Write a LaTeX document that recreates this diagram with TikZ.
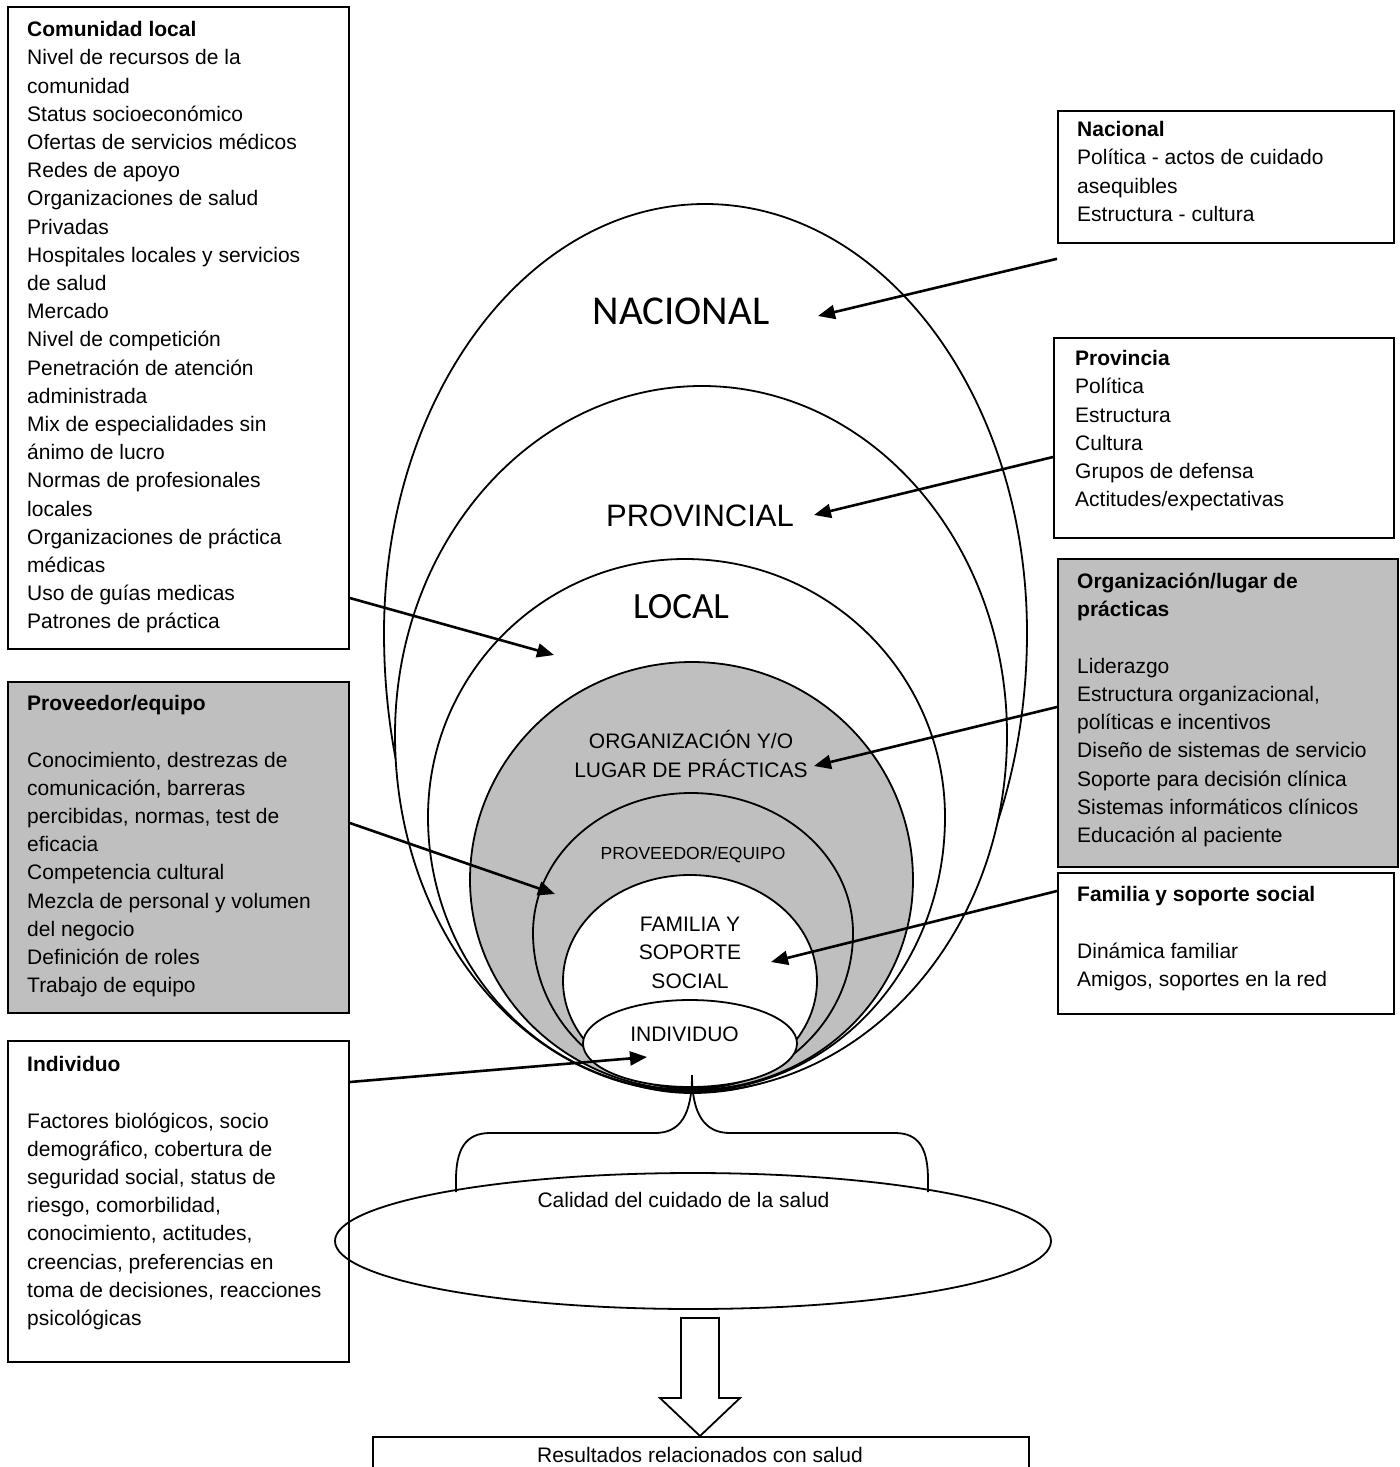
\documentclass[tikz,border=0pt]{standalone}
\usepackage{fontspec}
\setmainfont{Liberation Sans}
\newfontfamily\calib{Carlito}
\usetikzlibrary{arrows.meta,calc,shapes.geometric}
\definecolor{shade}{RGB}{191,191,191}
\begin{document}
\begin{tikzpicture}[x=1pt,y=-1pt,
  lvl/.style={draw=black,line width=1.8pt},
  box/.style={draw=black,line width=1.8pt,anchor=north west,inner sep=0pt},
  body/.style={anchor=north west,inner sep=0pt,align=left,font=\fontsize{21}{28.2}\selectfont},
  lbl/.style={anchor=base,inner sep=0pt,align=center,font=\fontsize{21}{28.2}\selectfont},
  link/.style={line width=2.6pt,-{Triangle[length=17pt,width=14pt]}},
]
\clip (0,0) rectangle (1400,1467);
\fill[white] (0,0) rectangle (1400,1467);

% nested levels, outer to inner
\filldraw[lvl,fill=white] (705,204) .. controls (882.8,204) and (1027,396.1) .. (1027,633)
  .. controls (1027,887.1) and (877,1093) .. (692,1093)
  .. controls (521.9,1093) and (384,887.1) .. (384,633)
  .. controls (384,396.1) and (527.7,204) .. cycle;
\filldraw[lvl,fill=white] (702,386) .. controls (870.5,386) and (1007,542.3) .. (1007,735)
  .. controls (1007,932.2) and (866,1092) .. (692,1092)
  .. controls (528,1092) and (395,932.2) .. (395,735)
  .. controls (395,542.3) and (532.4,386) .. cycle;
\filldraw[lvl,fill=white] (685,559) .. controls (828.6,559) and (945,674.5) .. (945,817)
  .. controls (945,968.3) and (831.7,1091) .. (692,1091)
  .. controls (546.2,1091) and (428,968.3) .. (428,817)
  .. controls (428,674.5) and (543.1,559) .. cycle;
\filldraw[lvl,fill=shade] (692,662) .. controls (814,662) and (913,759.6) .. (913,880)
  .. controls (913,996) and (814,1090) .. (692,1090)
  .. controls (569.4,1090) and (470,996) .. (470,880)
  .. controls (470,759.6) and (569.4,662) .. cycle;
\filldraw[lvl,fill=shade] (691,793) .. controls (780.5,793) and (853,855.7) .. (853,933)
  .. controls (853,1019.2) and (780.9,1089) .. (692,1089)
  .. controls (604.7,1089) and (533,1019.2) .. (533,933)
  .. controls (533,855.7) and (603.7,793) .. cycle;
\filldraw[lvl,fill=white] (690,875) .. controls (760.1,875) and (817,921.9) .. (817,981)
  .. controls (817,1039.6) and (761,1088) .. (692,1088)
  .. controls (620.7,1088) and (563,1039.6) .. (563,981)
  .. controls (563,921.9) and (619.9,875) .. cycle;
\node[lvl,fill=white,ellipse,minimum width=214pt,minimum height=87pt,inner sep=0pt] (indiv) at (690,1043.5) {};

% level labels (multi-line labels sit on their last baseline)
\node[anchor=base,inner sep=0pt,font=\calib\fontsize{41}{48}\selectfont] (naclbl) at (681,324) {NACIONAL};
\node[anchor=base,inner sep=0pt,font=\fontsize{31}{36}\selectfont] (provlbl) at (700,526) {PROVINCIAL};
\node[anchor=base,inner sep=0pt,font=\calib\fontsize{37}{44}\selectfont] (loclbl) at (681,618) {LOCAL};
\node[lbl] (orglbl) at (691,777) {ORGANIZACIÓN Y/O\\LUGAR DE PRÁCTICAS};
\node[anchor=base,inner sep=0pt,font=\fontsize{17.5}{21}\selectfont] (prvlbl) at (693,859) {PROVEEDOR/EQUIPO};
\node[lbl] (famlbl) at (690,988) {FAMILIA Y\\SOPORTE\\SOCIAL};
\node[lbl] (indlbl) at (684.5,1041) {INDIVIDUO};

% brace gathering the levels
\draw[lvl] (692,1075) .. controls (692,1115) and (680,1133) .. (655,1133) -- (490,1133)
  .. controls (465,1133) and (456,1150) .. (456,1180) -- (456,1192);
\draw[lvl] (692,1075) .. controls (692,1115) and (705,1133) .. (730,1133) -- (895,1133)
  .. controls (920,1133) and (928,1150) .. (928,1180) -- (928,1192);

% quality of care and outcome
\node[lvl,ellipse,minimum width=716pt,minimum height=136pt,inner sep=0pt] (calidad) at (693,1241) {};
\node[lbl] (callbl) at (683.5,1207) {Calidad del cuidado de la salud};
\node[box,minimum width=656pt,minimum height=80pt] (resultados) at (372,1436) {};
\node[lbl] (reslbl) at (700,1462) {Resultados relacionados con salud};
\filldraw[lvl,fill=white] (681,1318) -- (719,1318) -- (719,1398) -- (740,1398)
  -- (resultados.north -| 700,0) -- (660,1398) -- (681,1398) -- cycle;

% factor boxes
\node[box,minimum width=341pt,minimum height=642pt] (comunidad) at (7,6) {};
\node[box,fill=shade,minimum width=341pt,minimum height=331pt] (proveedor) at (7,681) {};
\node[box,minimum width=341pt,minimum height=321pt] (individuo) at (7,1040) {};
\node[box,minimum width=336pt,minimum height=132pt] (nacional) at (1057,110) {};
\node[box,minimum width=340pt,minimum height=200pt] (provincia) at (1053,337) {};
\node[box,fill=shade,minimum width=340pt,minimum height=308pt] (organizacion) at (1057,558) {};
\node[box,minimum width=336pt,minimum height=141pt] (familia) at (1057,872) {};

\node[body] (comtxt) at (27,16.76) {\strut\textbf{Comunidad local}\\
Nivel de recursos de la\\
comunidad\\
Status socioeconómico\\
Ofertas de servicios médicos\\
Redes de apoyo\\
Organizaciones de salud\\
Privadas\\
Hospitales locales y servicios\\
de salud\\
Mercado\\
Nivel de competición\\
Penetración de atención\\
administrada\\
Mix de especialidades sin\\
ánimo de lucro\\
Normas de profesionales\\
locales\\
Organizaciones de práctica\\
médicas\\
Uso de guías medicas\\
Patrones de práctica};

\node[body] (prvtxt) at (27,690.76) {\strut\textbf{Proveedor/equipo}\\[28.2pt]
Conocimiento, destrezas de\\
comunicación, barreras\\
percibidas, normas, test de\\
eficacia\\
Competencia cultural\\
Mezcla de personal y volumen\\
del negocio\\
Definición de roles\\
Trabajo de equipo};

\node[body] (indtxt) at (27,1051.76) {\strut\textbf{Individuo}\\[28.2pt]
Factores biológicos, socio\\
demográfico, cobertura de\\
seguridad social, status de\\
riesgo, comorbilidad,\\
conocimiento, actitudes,\\
creencias, preferencias en\\
toma de decisiones, reacciones\\
psicológicas};

\node[body] (nactxt) at (1077,116.76) {\strut\textbf{Nacional}\\
Política - actos de cuidado\\
asequibles\\
Estructura - cultura};

\node[body] (provtxt) at (1075,345.76) {\strut\textbf{Provincia}\\
Política\\
Estructura\\
Cultura\\
Grupos de defensa\\
Actitudes/expectativas};

\node[body] (orgtxt) at (1077,568.76) {\strut\textbf{Organización/lugar de}\\
\textbf{prácticas}\\[28.2pt]
Liderazgo\\
Estructura organizacional,\\
políticas e incentivos\\
Diseño de sistemas de servicio\\
Soporte para decisión clínica\\
Sistemas informáticos clínicos\\
Educación al paciente};

\node[body] (famtxt) at (1077,881.76) {\strut\textbf{Familia y soporte social}\\[28.2pt]
Dinámica familiar\\
Amigos, soportes en la red};

% pointers from boxes to levels
\coordinate (nacT) at (818,316);
\coordinate (provT) at (814,515);
\coordinate (orgT) at (814,766);
\coordinate (famT) at (771,962);
\coordinate (comT) at (554,655);
\coordinate (prvT) at (555,894);
\coordinate (indT) at (647,1057);
\draw[link] ($(nacional.south west)+(0,15)$) -- (nacT);
\draw[link] ($(provincia.north west)+(0,120)$) -- (provT);
\draw[link] ($(organizacion.north west)+(0,149)$) -- (orgT);
\draw[link] ($(familia.north west)+(0,19)$) -- (famT);
\draw[link] ($(comunidad.north east)+(0,592)$) -- (comT);
\draw[link] ($(proveedor.north east)+(0,142)$) -- (prvT);
\draw[link] ($(individuo.north east)+(0,42)$) -- (indT);
\end{tikzpicture}
\end{document}
